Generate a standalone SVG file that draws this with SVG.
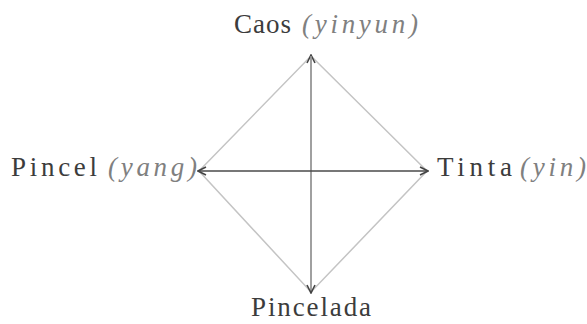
<svg xmlns="http://www.w3.org/2000/svg" width="587" height="324" viewBox="0 0 587 324">
<style>
.t{font-family:"Liberation Serif","Times New Roman",serif;font-size:27px;fill:#3c3c3c}
.i{font-style:italic;fill:#808080}
.h{stroke:#4a4a4a;stroke-width:1.5;fill:none}
.v{stroke:#9a9a9a;stroke-width:1.5;fill:none}
.dia{stroke:#c4c4c4;stroke-width:1.5;fill:none}
</style>
<defs>
<marker id="ah" viewBox="0 0 10 10" refX="9" refY="5" markerWidth="10" markerHeight="10" markerUnits="userSpaceOnUse" orient="auto">
<path d="M1,1 L9,5 L1,9" fill="none" stroke="#444" stroke-width="1.6"/>
</marker>
</defs>
<rect width="587" height="324" fill="#fff"/>
<g id="connectors">
<polygon class="dia" points="311,56 427,171 311,292 199,171"/>
<line class="v" x1="311" y1="292" x2="311" y2="55" marker-end="url(#ah)"/>
<line class="v" x1="311" y1="56" x2="311" y2="293" marker-end="url(#ah)"/>
<line class="h" x1="311" y1="171" x2="198" y2="171" marker-end="url(#ah)"/>
<line class="h" x1="311" y1="171" x2="428" y2="171" marker-end="url(#ah)"/>
</g>
<g id="caos">
<text class="t" x="234" y="33" textLength="57" lengthAdjust="spacing">Caos</text>
<text class="t i" x="302" y="33" textLength="116" lengthAdjust="spacing">(yinyun)</text>
</g>
<g id="pincel">
<text class="t" x="11" y="176" textLength="86" lengthAdjust="spacing">Pincel</text>
<text class="t i" x="108" y="176" textLength="89" lengthAdjust="spacing">(yang)</text>
</g>
<g id="tinta">
<text class="t" x="437" y="176" textLength="75" lengthAdjust="spacing">Tinta</text>
<text class="t i" x="520" y="176" textLength="66" lengthAdjust="spacing">(yin)</text>
</g>
<g id="pincelada">
<text class="t" x="251" y="316" textLength="120" lengthAdjust="spacing">Pincelada</text>
</g>
</svg>
